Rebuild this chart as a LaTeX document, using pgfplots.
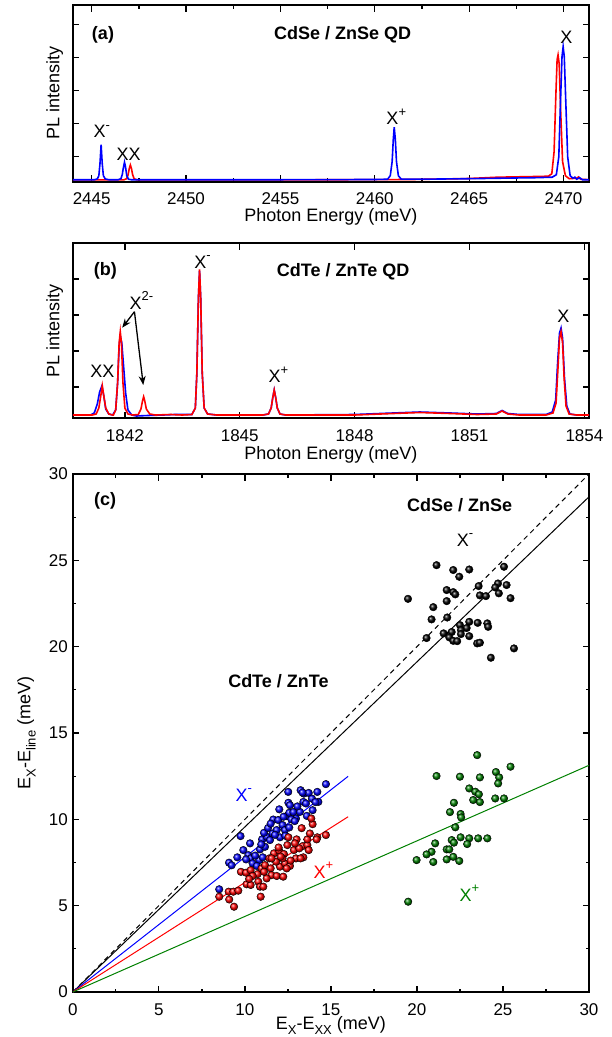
\documentclass[border=0pt]{standalone}
\usepackage{fontspec}
\setmainfont{Liberation Sans}
\usepackage{pgfplots}
\pgfplotsset{compat=1.18}
\usetikzlibrary{arrows.meta}
\definecolor{dgreen}{RGB}{0,128,0}
\newcommand{\sps}[1]{\raisebox{0.48em}{\fontsize{13}{13}\selectfont #1}}
\newcommand{\sbs}[1]{\raisebox{-0.28em}{\fontsize{13}{13}\selectfont #1}}

\pgfplotsset{
  panel/.style={
    scale only axis, width=516.2pt,
    tick align=inside,
    axis line style={line width=1.8pt},
    every tick/.append style={black, line width=1.3pt},
    major tick length=6.5pt, minor tick length=3.5pt,
    tick label style={font=\fontsize{17}{20}\selectfont},
    label style={font=\fontsize{18}{21}\selectfont},
    /pgf/number format/assume math mode=true,
    /pgf/number format/1000 sep={},
    xticklabel style={anchor=base, yshift=-23pt},
    ylabel style={at={(axis description cs:-0.026,0.5)}, anchor=base},
  },
  spec/.style={line width=1.6pt, no marks},
  dots/.style={only marks, mark=ball, mark size=3.8pt, mark options={ball color=#1}},
}
\tikzset{
  lab/.style={font=\fontsize{18}{21}\selectfont, inner sep=0pt},
  ttl/.style={font=\fontsize{18}{21}\selectfont\bfseries, inner sep=0pt},
}

\begin{document}
\begin{tikzpicture}
\path[use as bounding box] (0,0) rectangle (611pt,-1037pt);

% ---------- (a) CdSe / ZnSe QD spectra
\begin{axis}[panel, at={(72.8pt,-181.7pt)}, anchor=south west, height=176.7pt,
  xmin=2444.0, xmax=2471.35, ymin=0, ymax=176.7,
  xtick={2445,2450,...,2470}, minor x tick num=1,
  ytick={25,58,91,124,157}, yticklabels={,,,,,},
  xlabel={Photon Energy (meV)}, ylabel={PL intensity},
  xlabel style={at={(axis description cs:0.5,0)}, anchor=base, yshift=-39.5pt},
]
\addplot[spec, red] coordinates {
(2444.0,1.8) (2446.7,1.8) (2446.85,3) (2446.93,7) (2446.99,13) (2447.05,16.7)
(2447.11,13) (2447.17,7) (2447.25,3) (2447.4,1.8) (2455,1.8) (2462,2.2)
(2465,3.2) (2466.5,4.5) (2468.5,5.2) (2469.2,5.5) (2469.38,8) (2469.5,30)
(2469.6,90) (2469.66,122) (2469.71,126.7) (2469.77,118) (2469.85,70)
(2469.95,20) (2470.1,6) (2470.3,3) (2470.7,3.5) (2470.8,4.8) (2470.9,2.5) (2471.35,2)
};
\addplot[spec, blue] coordinates {
(2444.0,2.0) (2445.15,2.0) (2445.30,2.8) (2445.38,6) (2445.44,18) (2445.50,37)
(2445.56,18) (2445.62,6) (2445.72,2.8) (2445.9,2.0)
(2446.40,2.0) (2446.55,3) (2446.62,7) (2446.68,14) (2446.74,19.5) (2446.80,14)
(2446.86,6) (2446.95,2.5) (2447.1,2.0)
(2455.0,2.0) (2460.0,2.2) (2460.68,2.5) (2460.82,6) (2460.92,20) (2460.98,42)
(2461.03,54.5) (2461.09,42) (2461.15,20) (2461.25,6) (2461.40,2.6)
(2463.0,2.6) (2465.0,3.0) (2467.0,3.6) (2468.5,4.0) (2469.4,4.5) (2469.62,7)
(2469.75,25) (2469.84,80) (2469.92,125) (2469.98,135) (2470.04,125) (2470.12,80)
(2470.22,25) (2470.35,6) (2470.5,3.5) (2470.6,4.5) (2470.7,2.5) (2470.85,4)
(2471.0,2) (2471.35,2)
};
\node[ttl, anchor=base] at (axis cs:2445.6,142.5) {(a)};
\node[ttl, anchor=base] at (axis cs:2458.3,142.5) {CdSe / ZnSe QD};
\node[lab, anchor=base] at (axis cs:2470.15,138.5) {X};
\node[lab, anchor=base west] at (axis cs:2460.61,57) {X\sps{+}};
\node[lab, anchor=base west] at (axis cs:2445.09,44) {X\sps{-}};
\node[lab, anchor=base] at (axis cs:2446.96,21) {XX};
\end{axis}

% ---------- (b) CdTe / ZnTe QD spectra
\begin{axis}[panel, at={(72.8pt,-418pt)}, anchor=south west, height=175pt,
  xmin=1840.64, xmax=1854.12, ymin=0, ymax=175,
  xtick={1842,1845,...,1854}, minor x tick num=1,
  ytick={31,67,103,139,175}, yticklabels={,,,,,},
  xlabel={Photon Energy (meV)}, ylabel={PL intensity},
  xlabel style={at={(axis description cs:0.5,0)}, anchor=base, yshift=-41.5pt},
]
\addplot[spec, blue] coordinates {
(1840.64,3) (1841.1,3) (1841.2,5) (1841.28,14) (1841.34,26) (1841.40,32)
(1841.45,22) (1841.50,9) (1841.58,4) (1841.68,3) (1841.76,8) (1841.81,35)
(1841.85,72) (1841.88,82) (1841.92,75) (1841.97,50) (1842.02,25) (1842.08,8)
(1842.18,3) (1842.3,2) (1842.6,2.5) (1843.0,3) (1843.3,3.5) (1843.75,3.5)
(1843.84,10) (1843.88,45) (1843.92,120) (1843.95,147) (1843.98,120) (1844.02,45)
(1844.07,10) (1844.16,4) (1844.4,3) (1845.6,3) (1845.75,4) (1845.82,10)
(1845.86,20) (1845.90,28) (1845.94,20) (1845.98,10) (1846.05,4) (1846.2,3)
(1848.0,3.5) (1849.0,5) (1849.7,6) (1850.5,5) (1851.2,4) (1851.7,4.5)
(1851.85,7.5) (1852.0,4.5) (1852.3,3.5) (1853.0,3.5) (1853.16,6) (1853.25,18)
(1853.30,55) (1853.35,85) (1853.39,90) (1853.43,80) (1853.48,40) (1853.54,12)
(1853.62,4) (1853.8,3) (1854.12,3)
};
\addplot[spec, red] coordinates {
(1840.64,3) (1841.15,3) (1841.25,4) (1841.32,10) (1841.37,22) (1841.41,32.3)
(1841.45,22) (1841.50,10) (1841.58,4) (1841.68,3) (1841.70,3) (1841.76,8)
(1841.81,35) (1841.85,75) (1841.88,86.3) (1841.91,75) (1841.95,35) (1842.00,10)
(1842.08,4) (1842.2,3) (1842.35,3.5) (1842.42,9) (1842.46,17) (1842.49,21.3)
(1842.52,17) (1842.56,9) (1842.65,4) (1842.8,3) (1843.2,3.5) (1843.5,3)
(1843.75,3.5) (1843.84,10) (1843.88,45) (1843.92,120) (1843.95,148.7)
(1843.98,120) (1844.02,45) (1844.07,10) (1844.16,4) (1844.4,3)
(1845.6,3) (1845.75,4) (1845.82,10) (1845.86,20) (1845.90,28) (1845.94,20)
(1845.98,10) (1846.05,4) (1846.2,3) (1848.0,3) (1849.0,4.5) (1849.7,5.5)
(1850.5,4.5) (1851.2,3.5) (1851.7,4) (1851.85,7) (1852.0,4) (1852.3,3)
(1853.0,3) (1853.18,5) (1853.26,15) (1853.31,50) (1853.35,80) (1853.39,86.3)
(1853.43,75) (1853.47,40) (1853.52,12) (1853.6,4) (1853.8,3) (1854.12,3)
};
\node[ttl, anchor=base] at (axis cs:1841.49,143) {(b)};
\node[ttl, anchor=base] at (axis cs:1847.7,141.5) {CdTe / ZnTe QD};
\node[lab, anchor=base] at (axis cs:1841.41,41) {XX};
\node[lab, anchor=base west] at (axis cs:1842.12,108.8) {X\sps{2-}};
\node[lab, anchor=base west] at (axis cs:1843.81,149.8) {X\sps{-}};
\node[lab, anchor=base west] at (axis cs:1845.75,35.2) {X\sps{+}};
\node[lab, anchor=base] at (axis cs:1853.45,95.5) {X};
\draw[-{Stealth[length=9pt,width=7pt]}, line width=1.3pt]
  (axis cs:1842.25,106.3) -- (axis cs:1841.93,90.3);
\draw[-{Stealth[length=9pt,width=7pt]}, line width=1.3pt]
  (axis cs:1842.25,106.3) -- (axis cs:1842.48,33);
\end{axis}

% ---------- (c) binding energies
\begin{axis}[panel, at={(72.8pt,-992pt)}, anchor=south west, height=518pt,
  xmin=0, xmax=30, ymin=0, ymax=30,
  xtick={0,5,...,30}, ytick={0,5,...,30},
  minor x tick num=1, minor y tick num=1,
  yticklabel style={anchor=east, xshift=-1.5pt},
  xlabel={E\sbs{X}-E\sbs{XX} (meV)},
  ylabel={E\sbs{X}-E\sbs{line} (meV)},
  xlabel style={at={(axis description cs:0.5,0)}, anchor=base, yshift=-37pt},
  ylabel style={at={(axis description cs:-0.082,0.5)}, anchor=base},
]
\addplot[black, line width=1pt, dash pattern=on 5pt off 4pt] coordinates {(0,0) (30,30)};
\addplot[black, line width=1pt] coordinates {(0,0) (30,28.68)};
\addplot[blue, line width=1pt] coordinates {(0,0) (16,12.49)};
\addplot[red, line width=1pt] coordinates {(0,0) (16,10.15)};
\addplot[dgreen, line width=1pt] coordinates {(0,0) (30,13.13)};

% CdSe X- (black)
\addplot[dots=black] coordinates {
(19.48,22.77) (21.14,24.72) (22.11,24.44) (23.04,24.47) (22.46,24.05) (25.06,24.63)
(23.59,23.51) (21.73,23.28) (22.11,23.16) (22.23,23.03) (24.71,23.66) (24.55,23.43)
(25.21,23.57) (23.66,22.97) (24.01,22.93) (24.76,23.09) (25.44,22.81) (21.73,22.64)
(20.95,22.29) (21.76,21.69) (20.85,21.58) (20.56,20.50) (21.55,20.77) (22.02,20.85)
(22.50,21.25) (23.04,21.44) (23.53,21.38) (24.09,21.35) (24.14,21.15) (22.89,21.08)
(22.56,20.96) (22.56,20.73) (23.04,20.61) (21.88,20.54) (22.11,20.34) (22.34,20.32)
(23.50,20.19) (23.66,20.23) (25.64,19.90) (24.30,19.36)
};
% CdSe X+ (green)
\addplot[dots=dgreen] coordinates {
(21.14,12.51) (22.50,12.47) (23.66,12.43) (25.44,13.05) (24.59,12.74) (24.78,12.43)
(24.72,12.08) (23.04,11.79) (23.39,11.60) (23.60,11.45) (23.27,11.12) (23.66,11.00)
(24.55,11.21) (25.06,11.21) (22.15,10.96) (21.92,10.42) (22.54,10.31) (22.57,10.11)
(22.23,9.54) (21.06,8.61) (22.02,8.80) (22.15,8.65) (22.54,8.96) (23.04,8.90)
(22.92,8.57) (23.56,8.90) (24.09,8.90) (20.85,8.12) (20.56,7.97) (21.73,8.26)
(21.88,8.26) (19.98,7.64) (20.95,7.53) (21.73,7.68) (22.11,7.83) (22.46,7.59)
(19.49,5.23) (23.50,13.72)
};
% CdTe X- (blue)
\addplot[dots=blue] coordinates {
(8.51,5.95) (9.08,7.49) (9.23,7.34) (9.56,7.80) (9.91,8.22) (9.75,9.03) (10.20,7.93)
(10.34,7.74) (10.07,7.68) (10.45,7.45) (10.84,7.64) (11.04,7.80) (10.88,8.26)
(11.17,8.41) (11.00,8.84) (11.27,8.99) (11.11,9.22) (11.46,8.80) (11.61,9.18)
(11.85,9.38) (12.04,8.96) (11.65,9.99) (11.94,9.96) (12.19,9.67) (12.33,9.38)
(12.58,9.53) (12.43,10.19) (12.00,10.58) (12.58,10.38) (12.82,10.42) (12.53,10.96)
(12.62,10.82) (12.97,10.05) (13.20,10.43) (13.40,11.01) (13.24,11.69) (13.43,11.49)
(13.71,11.53) (13.55,10.92) (13.94,10.53) (14.21,11.59) (14.27,11.01) (14.71,12.04)
(12.52,11.59) (10.30,8.61) (10.60,7.90) (10.95,8.55) (11.35,9.50) (11.75,9.10)
(12.25,10.15) (12.70,10.00) (13.05,10.75) (13.60,10.20) (13.90,11.20) (12.35,9.05)
(11.50,9.75) (10.70,7.30) (13.35,11.55) (14.10,11.00) (12.90,9.90)
};
% CdTe X+ (red)
\addplot[dots=red] coordinates {
(8.51,5.52) (9.09,5.36) (9.37,4.94) (9.06,5.81) (9.33,5.81) (9.62,5.87) (9.77,6.96)
(10.07,6.91) (10.34,7.06) (10.10,6.24) (10.34,6.20) (10.78,6.39) (10.92,5.52)
(10.88,6.10) (11.07,6.10) (10.74,6.83) (10.97,7.16) (11.17,7.35) (11.42,7.74)
(11.50,7.16) (11.55,6.77) (11.27,6.58) (11.85,6.72) (12.04,7.26) (11.81,7.55)
(11.69,8.03) (12.00,8.18) (12.27,7.99) (12.47,8.51) (12.33,7.45) (12.62,7.30)
(12.43,7.16) (12.19,7.74) (12.85,8.22) (13.01,8.84) (13.36,8.45) (13.63,8.51)
(13.40,7.80) (12.97,7.74) (13.16,8.32) (13.71,8.22) (13.63,8.84) (13.78,9.18)
(13.94,9.72) (13.86,10.05) (13.30,9.49) (14.21,8.96) (14.71,9.09) (14.17,8.84)
(12.66,7.61) (12.08,7.84) (11.55,7.74) (11.11,6.96) (10.45,6.72) (11.96,8.37)
(12.53,8.96) (12.23,6.68) (12.91,8.61) (13.24,7.74) (10.25,6.55)
};

\node[ttl] at (axis cs:1.88,28.45) {(c)};
\node[ttl] at (axis cs:22.48,28.2) {CdSe / ZnSe};
\node[ttl] at (axis cs:11.95,18.0) {CdTe / ZnTe};
\node[lab, anchor=base west] at (axis cs:22.31,25.80) {X\sps{-}};
\node[lab, anchor=base west, text=blue] at (axis cs:9.45,11.05) {X\sps{-}};
\node[lab, anchor=base west, text=red] at (axis cs:13.98,6.58) {X\sps{+}};
\node[lab, anchor=base west, text=dgreen] at (axis cs:22.47,5.26) {X\sps{+}};
\end{axis}
\end{tikzpicture}
\end{document}
